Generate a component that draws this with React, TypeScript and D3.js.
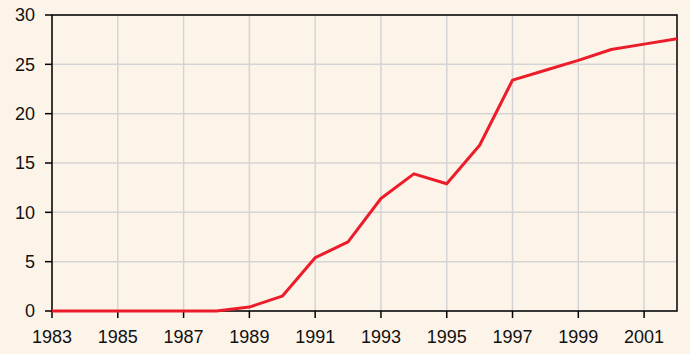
import React from "react";
import * as d3 from "d3";

const width = 690;
const height = 354;
const margin = { top: 15, right: 13, bottom: 43, left: 52 };

const years = [
  1983, 1984, 1985, 1986, 1987, 1988, 1989, 1990, 1991, 1992, 1993, 1994,
  1995, 1996, 1997, 1998, 1999, 2000, 2001, 2002,
];
const values = [
  0, 0, 0, 0, 0, 0, 0.4, 1.5, 5.4, 7.0, 11.4, 13.9, 12.9, 16.8, 23.4, 24.4,
  25.4, 26.5, 27.05, 27.6,
];
const xTicks = [1983, 1985, 1987, 1989, 1991, 1993, 1995, 1997, 1999, 2001];
const yTicks = [0, 5, 10, 15, 20, 25, 30];

export default function App() {
  const x = d3
    .scaleLinear()
    .domain([1983, 2002])
    .range([margin.left, width - margin.right]);
  const y = d3
    .scaleLinear()
    .domain([0, 30])
    .range([height - margin.bottom, margin.top]);

  const line = d3
    .line<number>()
    .x((_, i) => x(years[i]))
    .y((d) => y(d));

  const font = "'Liberation Sans', Arial, sans-serif";

  return (
    <svg
      width={width}
      height={height}
      style={{ position: "absolute", left: 0, top: 0, background: "#fdf4e9" }}
    >
      <rect x={0} y={0} width={width} height={height} fill="#fdf4e9" />
      {xTicks.map((t) => (
        <line
          key={"gx" + t}
          x1={x(t)}
          x2={x(t)}
          y1={y(0)}
          y2={y(30)}
          stroke="#d4d4d4"
          strokeWidth={1.5}
        />
      ))}
      {yTicks.map((t) => (
        <line
          key={"gy" + t}
          x1={x(1983)}
          x2={x(2002)}
          y1={y(t)}
          y2={y(t)}
          stroke="#d4d4d4"
          strokeWidth={1.5}
        />
      ))}
      <rect
        x={x(1983)}
        y={y(30)}
        width={x(2002) - x(1983)}
        height={y(0) - y(30)}
        fill="none"
        stroke="#000"
        strokeWidth={1.5}
      />
      {yTicks.map((t) => (
        <g key={"ty" + t}>
          <line
            x1={x(1983) - 7}
            x2={x(1983)}
            y1={y(t)}
            y2={y(t)}
            stroke="#000"
            strokeWidth={1.5}
          />
          <text
            x={x(1983) - 17}
            y={y(t)}
            dy="0.35em"
            textAnchor="end"
            fontFamily={font}
            fontSize={18}
            fill="#111"
          >
            {t}
          </text>
        </g>
      ))}
      {xTicks.map((t) => (
        <g key={"tx" + t}>
          <line
            x1={x(t)}
            x2={x(t)}
            y1={y(0)}
            y2={y(0) + 7}
            stroke="#000"
            strokeWidth={1.5}
          />
          <text
            x={x(t)}
            y={y(0) + 32}
            textAnchor="middle"
            fontFamily={font}
            fontSize={18}
            fill="#111"
          >
            {t}
          </text>
        </g>
      ))}
      <path
        d={line(values) || ""}
        fill="none"
        stroke="#ec1c2a"
        strokeWidth={3}
        strokeLinejoin="round"
      />
    </svg>
  );
}
